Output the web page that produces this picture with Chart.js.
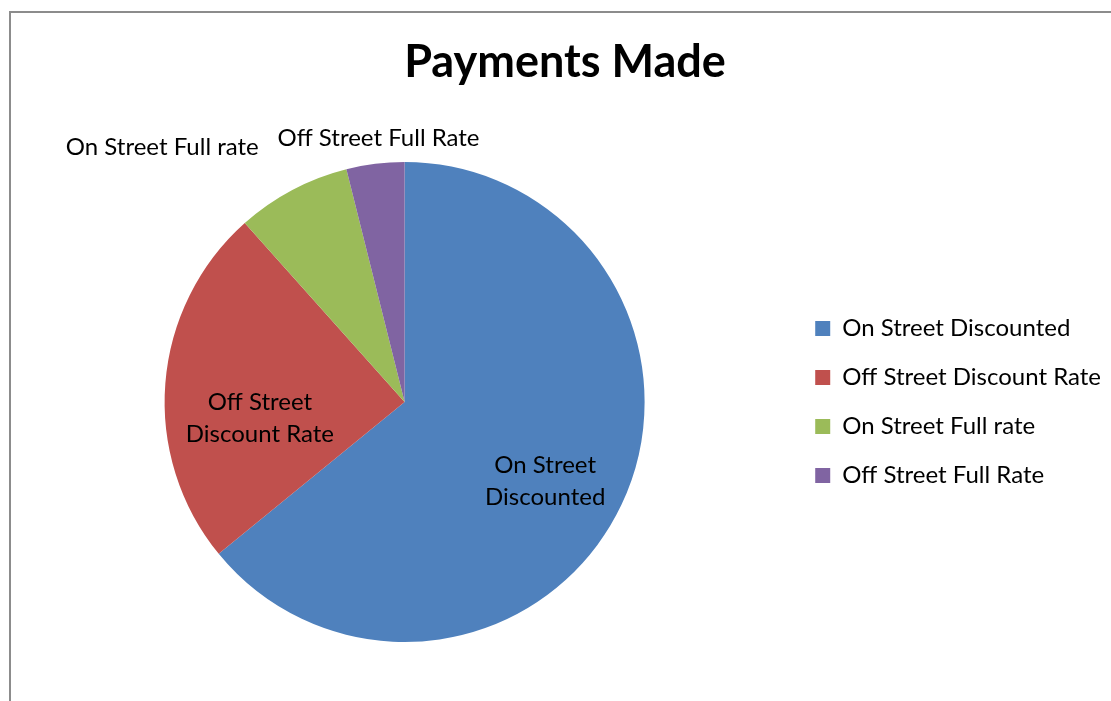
<!DOCTYPE html>
<html>
<head>
<meta charset="utf-8">
<script src="https://cdn.jsdelivr.net/npm/chart.js@4"></script>
<style>
  html, body { margin: 0; padding: 0; background: #fff; overflow: hidden; }
  #frame { position: absolute; left: 9px; top: 11px; width: 1200px; height: 800px;
           border-left: 2px solid #8c8c8c; border-top: 2px solid #8c8c8c; }
  #wrap { position: absolute; left: 0; top: 0; width: 1111px; height: 701px; }
</style>
</head>
<body>
<div id="frame"></div>
<div id="wrap"><canvas id="paymentsChart"></canvas></div>
<script>
const categories = ['On Street Discounted', 'Off Street Discount Rate', 'On Street Full rate', 'Off Street Full Rate'];
const payments = [64.1, 24.3, 7.7, 3.9];
const sliceColors = ['#4f81bd', '#c0504d', '#9bbb59', '#8064a2'];
// labels as they wrap on the slices
const sliceLabels = [['On Street', 'Discounted'], ['Off Street', 'Discount Rate'], ['On Street Full rate'], ['Off Street Full Rate']];

// draws the data labels: big slices inside, small ones just outside the rim
const sliceLabelPlugin = {
  id: 'sliceLabels',
  afterDatasetsDraw(chart, args, opts) {
    const ctx = chart.ctx;
    const meta = chart.getDatasetMeta(0);
    const total = payments.reduce((a, b) => a + b, 0);
    const lh = 32;
    ctx.save();
    ctx.font = opts.font;
    ctx.fillStyle = '#000';
    meta.data.forEach((arc, i) => {
      const p = arc.getProps(['x', 'y', 'startAngle', 'endAngle', 'outerRadius'], true);
      const mid = (p.startAngle + p.endAngle) / 2;
      const lines = sliceLabels[i];
      const [nx, ny] = opts.nudge[i];
      if (payments[i] / total >= 0.1) {
        const r = p.outerRadius * 0.63;
        const cx = p.x + Math.cos(mid) * r + nx;
        const cy = p.y + Math.sin(mid) * r + ny;
        ctx.textAlign = 'center';
        ctx.textBaseline = 'middle';
        lines.forEach((t, k) => {
          ctx.fillText(t, cx, cy + (k - (lines.length - 1) / 2) * lh);
        });
      } else {
        const r = p.outerRadius + 14;
        const ax = p.x + Math.cos(mid) * r + nx;
        const ay = p.y + Math.sin(mid) * r + ny;
        const cos = Math.cos(mid);
        ctx.textBaseline = 'bottom';
        ctx.textAlign = cos < -0.3 ? 'right' : (cos > 0.3 ? 'left' : 'center');
        lines.forEach((t, k) => {
          ctx.fillText(t, ax, ay - (lines.length - 1 - k) * lh);
        });
      }
    });
    ctx.restore();
  }
};

new Chart(document.getElementById('paymentsChart'), {
  type: 'pie',
  data: {
    labels: categories,
    datasets: [{
      data: payments,
      backgroundColor: sliceColors,
      borderWidth: 0
    }]
  },
  options: {
    responsive: true,
    maintainAspectRatio: false,
    animation: false,
    layout: { padding: { left: 19, right: 0, top: 0, bottom: 59 } },
    plugins: {
      title: {
        display: true,
        text: 'Payments Made',
        color: '#000',
        font: { family: 'Lato', size: 45, weight: 'bold', lineHeight: 1.2 },
        padding: { top: 35, bottom: 73 }
      },
      legend: {
        position: 'right',
        fullSize: false,
        labels: {
          color: '#000',
          font: { family: 'Lato', size: 24 },
          boxWidth: 15,
          boxHeight: 15,
          padding: 25
        }
      },
      tooltip: { enabled: false },
      sliceLabels: {
        font: '24px Lato',
        nudge: [[4, 14], [6, 28], [-27, -18], [5, 0]]
      }
    }
  },
  plugins: [sliceLabelPlugin]
});
</script>
</body>
</html>
